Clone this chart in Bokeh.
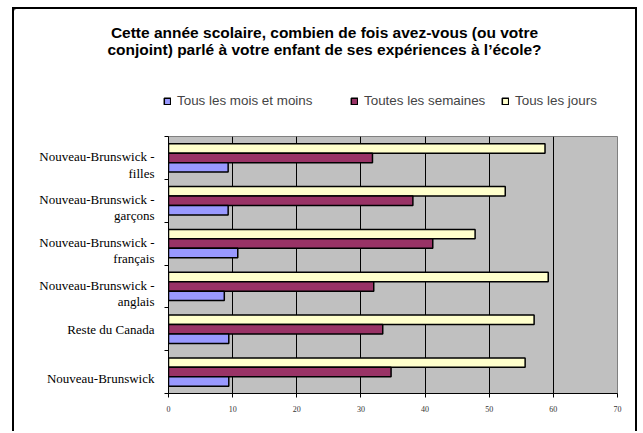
from bokeh.plotting import figure
from bokeh.layouts import column
from bokeh.models import Range1d, FixedTicker, Legend, LegendItem, Label
from bokeh.embed import file_html
from bokeh.resources import INLINE
import numpy as np

# ---- data (top to bottom as displayed) ----
categories = [
    "Nouveau-Brunswick -\nfilles",
    "Nouveau-Brunswick -\ngarçons",
    "Nouveau-Brunswick -\nfrançais",
    "Nouveau-Brunswick -\nanglais",
    "Reste du Canada",
    "Nouveau-Brunswick",
]
mois = [9.3, 9.3, 10.8, 8.7, 9.4, 9.4]
semaines = [31.8, 38.1, 41.2, 32.0, 33.4, 34.7]
jours = [58.7, 52.5, 47.8, 59.2, 57.0, 55.6]
series_names = ["Tous les mois et moins", "Toutes les semaines", "Tous les jours"]
series_colors = ["#9999FF", "#993366", "#FFFFCC"]
x_ticks = [0, 10, 20, 30, 40, 50, 60, 70]
title_lines = [
    "Cette année scolaire, combien de fois avez-vous (ou votre",
    "conjoint) parlé à votre enfant de ses expériences à l’école?",
]

# ---- layout constants ----
W = 621
n = len(categories)
centers = n - 1 - np.arange(n) + 0.5
bar_h = 0.22
label_shift = [0.16 if c != "Reste du Canada" else 0.0 for c in categories]
label_pos = [round(float(c - s), 3) for c, s in zip(centers, label_shift)]

# ---- header figure (title + legend) ; data coords = page pixels ----
top = figure(width=W, height=125, x_range=Range1d(14, 14 + W), y_range=Range1d(134, 9),
             x_axis_type=None, y_axis_type=None, output_backend="svg",
             toolbar_location=None, min_border=0, title=None)
top.frame_align = False
top.outline_line_color = None
top.grid.visible = False

for txt, y in zip(title_lines, [32, 49]):
    top.add_layout(Label(x=324, y=y, text=txt, text_align="center", text_baseline="middle",
                         text_font="Liberation Sans", text_font_style="bold",
                         text_font_size="15.5px", text_color="black"))

for name, col, x in zip(series_names, series_colors, [149, 336, 487]):
    # legend proxy (placed far outside the visible range)
    r = top.hbar(y=[-1000], right=[1], left=0, height=1, fill_color=col,
                 line_color="black", line_width=1.5)
    leg = Legend(items=[LegendItem(label=name, renderers=[r])], location=(x, 26),
                 orientation="horizontal", padding=0, margin=0,
                 border_line_color=None, background_fill_alpha=0,
                 glyph_width=8, glyph_height=8, label_standoff=6,
                 label_text_font="Liberation Sans", label_text_font_size="13.4px",
                 label_height=8)
    top.add_layout(leg)

# ---- main chart ----
p = figure(width=W, height=297, x_range=Range1d(0, 70), y_range=Range1d(0, n),
           output_backend="svg", toolbar_location=None, title=None,
           min_border_left=154, min_border_right=18,
           min_border_top=2, min_border_bottom=38)
p.frame_align = False

p.background_fill_color = "#C0C0C0"
p.outline_line_color = "#808080"
p.outline_line_width = 1

common = dict(left=0, height=bar_h, line_color="black", line_width=1.5)
p.hbar(y=centers + bar_h, right=jours, fill_color=series_colors[2], **common)
p.hbar(y=centers, right=semaines, fill_color=series_colors[1], **common)
p.hbar(y=centers - bar_h, right=mois, fill_color=series_colors[0], **common)

p.xaxis.ticker = FixedTicker(ticks=x_ticks)
p.xaxis.axis_line_color = "black"
p.xaxis.major_tick_line_color = "black"
p.xaxis.major_tick_out = 4
p.xaxis.major_tick_in = 0
p.xaxis.minor_tick_line_color = None
p.xaxis.major_label_text_font = "Liberation Serif"
p.xaxis.major_label_text_font_size = "8px"
p.xaxis.major_label_text_color = "#333333"
p.xaxis.major_label_standoff = 8
p.xgrid.ticker = FixedTicker(ticks=x_ticks)
p.xgrid.grid_line_color = "black"
p.xgrid.grid_line_width = 1
p.ygrid.visible = False

p.yaxis.ticker = FixedTicker(ticks=label_pos, minor_ticks=list(range(0, n + 1)))
p.yaxis.major_label_overrides = {pos: lab for pos, lab in zip(label_pos, categories)}
p.yaxis.axis_line_color = "black"
p.yaxis.major_tick_out = 0
p.yaxis.major_tick_in = 0
p.yaxis.minor_tick_out = 4
p.yaxis.minor_tick_in = 0
p.yaxis.minor_tick_line_color = "black"
p.yaxis.major_label_text_font = "Liberation Serif"
p.yaxis.major_label_text_font_size = "13px"
p.yaxis.major_label_text_color = "black"
p.yaxis.major_label_text_line_height = 1.1
p.yaxis.major_label_standoff = 10

layout = column(top, p, spacing=0,
                styles={"margin-left": "12px", "margin-top": "7px",
                        "border-left": "2px solid black", "border-top": "2px solid black",
                        "border-right": "2px solid black"})

open("out.html", "w").write(file_html(layout, INLINE))
